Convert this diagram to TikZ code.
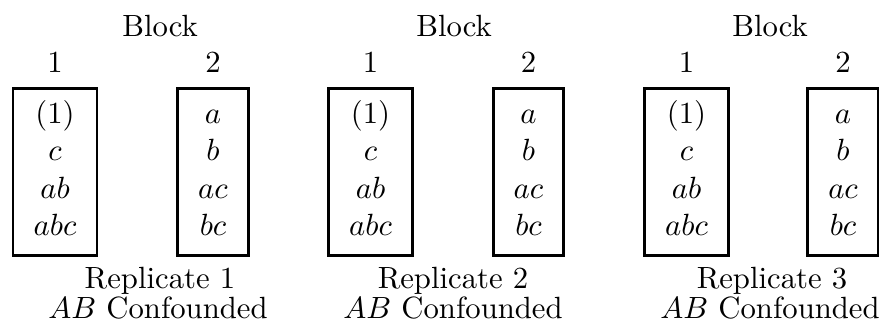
\documentclass[tikz,border=0pt]{standalone}
\usepackage{amsmath}
\usepackage{tikz}
\tikzset{boxone/.style={draw, line width=0.9pt, minimum width=27.4pt, minimum height=54.6pt, inner sep=0pt, align=center, font={\baselineskip=12.2pt}}}
\tikzset{boxtwo/.style={boxone, minimum width=23pt}}
\tikzset{lab/.style={anchor=base, inner sep=0pt}}

\begin{document}
\begin{tikzpicture}[x=0.3257pt, y=-0.3257pt]
				\useasboundingbox (0,0) rectangle (879,326);
				%
				\node[boxone] (b11) at (55,172) {\strut$(1)$\\$c$\\$ab$\\$abc$\strut};
				\node[boxtwo] (b12) at (213,172) {\strut$a$\\$b$\\$ac$\\$bc$\strut};
				\node[boxone] (b21) at (370.5,172) {\strut$(1)$\\$c$\\$ab$\\$abc$\strut};
				\node[boxtwo] (b22) at (528.5,172) {\strut$a$\\$b$\\$ac$\\$bc$\strut};
				\node[boxone] (b31) at (686.5,172) {\strut$(1)$\\$c$\\$ab$\\$abc$\strut};
				\node[boxtwo] (b32) at (843,172) {\strut$a$\\$b$\\$ac$\\$bc$\strut};
				%
				\node[lab] (n11) at (55,73) {1};
				\node[lab] (n12) at (213,73) {2};
				\node[lab] (n21) at (370.5,73) {1};
				\node[lab] (n22) at (528.5,73) {2};
				\node[lab] (n31) at (686.5,73) {1};
				\node[lab] (n32) at (843,73) {2};
				%
				\node[lab] (blk1) at (160,37) {Block};
				\node[lab] (blk2) at (454,37) {Block};
				\node[lab] (blk3) at (770,37) {Block};
				%
				\node[lab] (rep1) at (160,288) {Replicate 1};
				\node[lab] (rep2) at (453,288) {Replicate 2};
				\node[lab] (rep3) at (772,288) {Replicate 3};
				\node[lab] (conf1) at (158,318) {$AB$ Confounded};
				\node[lab] (conf2) at (453,318) {$AB$ Confounded};
				\node[lab] (conf3) at (770,318) {$AB$ Confounded};
			\end{tikzpicture}
\end{document}
